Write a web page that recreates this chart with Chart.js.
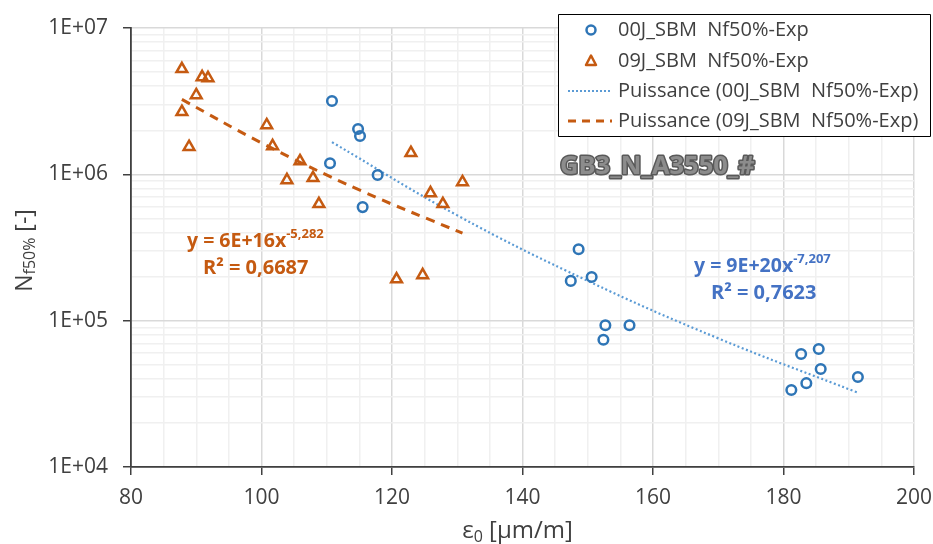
<!DOCTYPE html>
<html>
<head>
<meta charset="utf-8">
<script src="https://cdn.jsdelivr.net/npm/chart.js@4.4.1/dist/chart.umd.min.js"></script>
<style>
  html, body { margin: 0; padding: 0; background: #ffffff; }
  canvas { display: block; }
</style>
</head>
<body>
<canvas id="chart" width="933" height="544"></canvas>
<script>
// series names
const seriesNames = ['00J_SBM  Nf50%-Exp', '09J_SBM  Nf50%-Exp']
const trendNames = ['Puissance (00J_SBM  Nf50%-Exp)', 'Puissance (09J_SBM  Nf50%-Exp)']

// 00J_SBM measured points (strain, cycles)
const strain00 = [110.8, 114.8, 115.1, 110.5, 117.8, 115.5, 148.6, 147.4, 150.6, 152.7, 152.4, 156.4, 182.7, 185.4, 185.7, 183.5, 181.2, 191.4]
const cycles00 = [3.17e6, 2.04e6, 1.83e6, 1.19e6, 9.9e5, 5.97e5, 3.08e5, 1.87e5, 1.99e5, 9.3e4, 7.4e4, 9.3e4, 5.92e4, 6.4e4, 4.67e4, 3.74e4, 3.36e4, 4.12e4]

// 09J_SBM measured points
const strain09 = [87.8, 90.9, 91.8, 90.0, 87.8, 88.9, 100.8, 101.7, 105.9, 103.9, 107.9, 108.8, 122.9, 125.9, 127.8, 130.8, 120.7, 124.7]
const cycles09 = [5.25e6, 4.62e6, 4.55e6, 3.48e6, 2.67e6, 1.54e6, 2.17e6, 1.56e6, 1.23e6, 9.14e5, 9.44e5, 6.27e5, 1.40e6, 7.45e5, 6.27e5, 8.85e5, 1.92e5, 2.05e5]

// trend curves
const trendStrain00 = [110.8, 130, 150, 170, 191.4]
const trendCycles00 = [1.66e6, 5.24e5, 1.87e5, 7.57e4, 3.22e4]
const trendStrain09 = [87.8, 100, 115, 130.8]
const trendCycles09 = [3.25e6, 1.64e6, 7.82e5, 3.96e5]

// ticks
const yMajorTicks = [1e4, 1e5, 1e6, 1e7]
const yTickLabels = ['1E+04', '1E+05', '1E+06', '1E+07']
const xTickLabels = [80, 100, 120, 140, 160, 180, 200]

// annotation texts
const equation00 = ['y = 9E+20x', '-7,207', 'R² = 0,7623']
const equation09 = ['y = 6E+16x', '-5,282', 'R² = 0,6687']
const sampleName = 'GB3_N_A3550_#'

const blue = '#2e75b6'
const blueTrend = '#5b9bd5'
const blueText = '#4472c4'
const orange = '#c55a11'
const FONT = "'Open Sans', 'Noto Sans', sans-serif"

function toPoints(xs, ys) {
  return xs.map((x, i) => ({ x: x, y: ys[i] }))
}

function drawRich(ctx, parts, x, y) {
  // parts: [{text, size, dy, bold}]
  let cx = x
  for (const p of parts) {
    ctx.font = `${p.bold ? 'bold ' : ''}${p.size}px ${FONT}`
    ctx.fillText(p.text, cx, y + (p.dy || 0))
    cx += ctx.measureText(p.text).width
  }
  return cx - x
}

function richWidth(ctx, parts) {
  let w = 0
  for (const p of parts) {
    ctx.font = `${p.bold ? 'bold ' : ''}${p.size}px ${FONT}`
    w += ctx.measureText(p.text).width
  }
  return w
}

const overlayPlugin = {
  id: 'overlay',
  afterDraw(chart) {
    const ctx = chart.ctx
    const area = chart.chartArea
    ctx.save()
    ctx.textBaseline = 'middle'
    ctx.textAlign = 'left'

    // axis titles
    ctx.fillStyle = '#404040'
    const yParts = [
      { text: 'N', size: 23 },
      { text: 'f50%', size: 16, dy: 5 },
      { text: ' [-]', size: 23 }
    ]
    ctx.save()
    ctx.translate(25, (area.top + area.bottom) / 2 + 3)
    ctx.rotate(-Math.PI / 2)
    drawRich(ctx, yParts, -richWidth(ctx, yParts) / 2, 0)
    ctx.restore()

    const xParts = [
      { text: 'ε', size: 24 },
      { text: '0', size: 16, dy: 6 },
      { text: ' [µm/m]', size: 24 }
    ]
    drawRich(ctx, xParts, (area.left + area.right) / 2 - 5 - richWidth(ctx, xParts) / 2, 531)

    // sample name, outlined grey
    ctx.font = `bold 25.5px ${FONT}`
    ctx.lineJoin = 'round'
    ctx.lineWidth = 3
    ctx.strokeStyle = '#595959'
    ctx.strokeText(sampleName, 560, 167)
    ctx.fillStyle = '#8c8c8c'
    ctx.fillText(sampleName, 560, 167)

    // equations
    ctx.fillStyle = orange
    drawRich(ctx, [
      { text: equation09[0], size: 19.5, bold: true },
      { text: equation09[1], size: 13, bold: true, dy: -7 }
    ], 187, 241)
    drawRich(ctx, [{ text: equation09[2], size: 20, bold: true }], 203, 268)

    ctx.fillStyle = blueText
    drawRich(ctx, [
      { text: equation00[0], size: 19.5, bold: true },
      { text: equation00[1], size: 13, bold: true, dy: -7 }
    ], 694, 266)
    drawRich(ctx, [{ text: equation00[2], size: 20, bold: true }], 711, 293)

    // legend box
    const lx = 558, ly = 14, lw = 373, lh = 123
    ctx.fillStyle = '#ffffff'
    ctx.fillRect(lx, ly, lw, lh)
    ctx.strokeStyle = '#000000'
    ctx.lineWidth = 1
    ctx.strokeRect(lx + 0.5, ly + 0.5, lw - 1, lh - 1)

    const rows = [30, 61, 91, 121]
    const labels = [seriesNames[0], seriesNames[1], trendNames[0], trendNames[1]]
    ctx.font = `20px ${FONT}`
    ctx.fillStyle = '#404040'
    labels.forEach((t, i) => ctx.fillText(t, 618, rows[i]))

    ctx.lineWidth = 2.5
    ctx.strokeStyle = blue
    ctx.beginPath()
    ctx.arc(591, rows[0], 4.5, 0, Math.PI * 2)
    ctx.stroke()

    ctx.strokeStyle = orange
    ctx.beginPath()
    ctx.moveTo(591, rows[1] - 5.5)
    ctx.lineTo(596, rows[1] + 4)
    ctx.lineTo(586, rows[1] + 4)
    ctx.closePath()
    ctx.stroke()

    ctx.strokeStyle = blueTrend
    ctx.lineWidth = 2
    ctx.setLineDash([2, 2])
    ctx.beginPath()
    ctx.moveTo(568, rows[2])
    ctx.lineTo(611, rows[2])
    ctx.stroke()

    ctx.strokeStyle = orange
    ctx.lineWidth = 3
    ctx.setLineDash([8, 6])
    ctx.beginPath()
    ctx.moveTo(568, rows[3])
    ctx.lineTo(612, rows[3])
    ctx.stroke()

    ctx.restore()
  }
}

const isMajorY = v => yMajorTicks.some(m => Math.abs(v / m - 1) < 1e-6)

const ctx = document.getElementById('chart').getContext('2d')
new Chart(ctx, {
  type: 'scatter',
  data: {
    datasets: [
      {
        label: trendNames[0],
        type: 'line',
        data: toPoints(trendStrain00, trendCycles00),
        borderColor: blueTrend,
        borderWidth: 2.2,
        borderDash: [2, 2.5],
        pointRadius: 0,
        tension: 0.4,
        fill: false,
        order: 3
      },
      {
        label: trendNames[1],
        type: 'line',
        data: toPoints(trendStrain09, trendCycles09),
        borderColor: orange,
        borderWidth: 3,
        borderDash: [9, 7],
        pointRadius: 0,
        tension: 0.4,
        fill: false,
        order: 4
      },
      {
        label: seriesNames[0],
        data: toPoints(strain00, cycles00),
        pointStyle: 'circle',
        pointRadius: 4.8,
        pointBorderWidth: 2.5,
        pointBorderColor: blue,
        pointBackgroundColor: 'rgba(0,0,0,0)',
        order: 1
      },
      {
        label: seriesNames[1],
        data: toPoints(strain09, cycles09),
        pointStyle: 'triangle',
        pointRadius: 6.2,
        pointBorderWidth: 2.5,
        pointBorderColor: orange,
        pointBackgroundColor: 'rgba(0,0,0,0)',
        order: 2
      }
    ]
  },
  options: {
    responsive: false,
    animation: false,
    layout: { padding: { top: 28, right: 19, left: 0, bottom: 0 } },
    plugins: {
      legend: { display: false },
      tooltip: { enabled: false }
    },
    scales: {
      x: {
        type: 'linear',
        min: 80,
        max: 200,
        afterFit: s => { s.height = 77; s.paddingRight = 0; s.paddingLeft = 0 },
        ticks: {
          stepSize: 5,
          autoSkip: false,
          maxRotation: 0,
          padding: 10,
          color: '#404040',
          font: { family: FONT, size: 21 },
          callback: v => xTickLabels.includes(v) ? String(v) : ''
        },
        grid: {
          color: c => xTickLabels.includes(c.tick.value) ? '#d9d9d9' : '#f0f0f0',
          lineWidth: 1.5,
          tickLength: 8,
          tickColor: c => xTickLabels.includes(c.tick.value) ? '#404040' : 'rgba(0,0,0,0)',
          tickWidth: 1.5
        },
        border: { color: '#404040', width: 1.8 }
      },
      y: {
        type: 'logarithmic',
        min: 1e4,
        max: 1e7,
        afterFit: s => { s.width = 131; s.paddingTop = 0; s.paddingBottom = 0 },
        afterBuildTicks: s => {
          const ticks = []
          for (let d = 4; d < 7; d++) {
            for (let m = 1; m < 10; m++) ticks.push({ value: m * Math.pow(10, d) })
          }
          ticks.push({ value: 1e7 })
          s.ticks = ticks
        },
        ticks: {
          autoSkip: false,
          padding: 15,
          color: '#404040',
          font: { family: FONT, size: 21 },
          callback: v => {
            const i = yMajorTicks.findIndex(m => Math.abs(v / m - 1) < 1e-6)
            return i >= 0 ? yTickLabels[i] : ''
          }
        },
        grid: {
          color: c => isMajorY(c.tick.value) ? '#d9d9d9' : '#f0f0f0',
          lineWidth: 1.5,
          tickLength: 8,
          tickColor: c => isMajorY(c.tick.value) ? '#404040' : 'rgba(0,0,0,0)',
          tickWidth: 1.5
        },
        border: { color: '#404040', width: 1.8 }
      }
    }
  },
  plugins: [overlayPlugin]
})
</script>
</body>
</html>
